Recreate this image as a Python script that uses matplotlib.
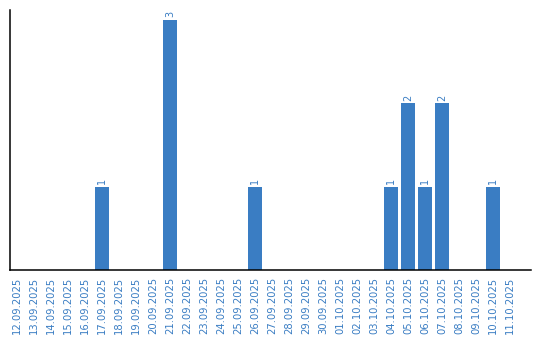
import matplotlib
matplotlib.use("Agg")
import matplotlib.pyplot as plt
import numpy as np

# dates and counts
dates = ["12.09.2025", "13.09.2025", "14.09.2025", "15.09.2025", "16.09.2025",
         "17.09.2025", "18.09.2025", "19.09.2025", "20.09.2025", "21.09.2025",
         "22.09.2025", "23.09.2025", "24.09.2025", "25.09.2025", "26.09.2025",
         "27.09.2025", "28.09.2025", "29.09.2025", "30.09.2025", "01.10.2025",
         "02.10.2025", "03.10.2025", "04.10.2025", "05.10.2025", "06.10.2025",
         "07.10.2025", "08.10.2025", "09.10.2025", "10.10.2025", "11.10.2025"]
counts = [0, 0, 0, 0, 0, 1, 0, 0, 0, 3,
          0, 0, 0, 0, 1, 0, 0, 0, 0, 0,
          0, 0, 1, 2, 1, 2, 0, 0, 1, 0]

BLUE = "#3a7dc3"

fig = plt.figure(figsize=(5.4, 3.4), dpi=100)
ax = fig.add_axes([0.0194, 0.2059, 0.9639, 0.7647])

x = np.arange(len(dates))
ax.bar(x, counts, width=0.82, color=BLUE)

# count labels above the bars, rotated like the reference
for xi, c in zip(x, counts):
    if c > 0:
        ax.text(xi, c + 0.03, str(c), rotation=90, ha="center", va="bottom",
                fontsize=7, color=BLUE)

ax.set_xlim(-0.38, 30.24)
ax.set_ylim(0, 3.12)
ax.set_xticks(x)
ax.set_xticklabels(dates, rotation=90, fontsize=7.2, color=BLUE)
ax.tick_params(axis="x", length=0, pad=5)
ax.set_yticks([])

for s in ["top", "right"]:
    ax.spines[s].set_visible(False)
ax.spines["left"].set_color("black")
ax.spines["bottom"].set_color("black")
ax.spines["left"].set_linewidth(1.1)
ax.spines["bottom"].set_linewidth(1.1)

fig.savefig("out.png", dpi=100)
